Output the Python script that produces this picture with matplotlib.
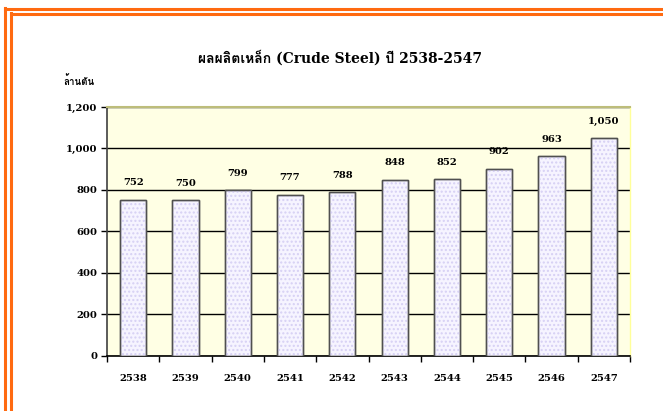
import matplotlib
matplotlib.use("Agg")
import matplotlib.pyplot as plt
from matplotlib import font_manager

years = ["2538", "2539", "2540", "2541", "2542", "2543", "2544", "2545", "2546", "2547"]
values = [752, 750, 799, 777, 788, 848, 852, 902, 963, 1050]
yticks = [0, 200, 400, 600, 800, 1000, 1200]
title = "ผลผลิตเหล็ก (Crude Steel) ปี 2538-2547"
unit = "ล้านตัน"

# find a font that has Thai glyphs
thai_fonts = []
try:
    from fontTools.ttLib import TTFont
    for f in font_manager.fontManager.ttflist:
        try:
            tt = TTFont(f.fname, fontNumber=0, lazy=True)
            cmap = tt.getBestCmap()
            if cmap and 0x0E1C in cmap and 0x0E25 in cmap:
                if f.name not in thai_fonts:
                    thai_fonts.append(f.name)
        except Exception:
            pass
except Exception:
    pass
serif_fams = ["DejaVu Serif"]
title_fams = ["DejaVu Serif"] + thai_fonts

W, H = 663, 411
fig = plt.figure(figsize=(W / 100, H / 100), dpi=100)
fig.patch.set_facecolor("white")

# orange double border (crop of a page frame)
orange = "#FF6A10"
fig.add_artist(plt.Line2D([5 / W, 5 / W], [0, 1 - 8.5 / H], transform=fig.transFigure, color=orange, lw=2.2))
fig.add_artist(plt.Line2D([5 / W, 1], [1 - 9.5 / H, 1 - 9.5 / H], transform=fig.transFigure, color=orange, lw=2.2))
fig.add_artist(plt.Line2D([10.5 / W, 10.5 / W], [0, 1 - 13.5 / H], transform=fig.transFigure, color=orange, lw=2.2))
fig.add_artist(plt.Line2D([10.5 / W, 1], [1 - 14.5 / H, 1 - 14.5 / H], transform=fig.transFigure, color=orange, lw=2.2))

left, right, top, bottom = 107, 630, 107, 355.7
ax = fig.add_axes([left / W, 1 - bottom / H, (right - left) / W, (bottom - top) / H])
ax.set_facecolor("#FFFFE4")

n = len(years)
xs = list(range(n))
ax.set_xlim(-0.5, n - 0.5)
ax.set_ylim(0, 1200)

fs = 7.2
ax.set_yticks(yticks)
ax.set_yticklabels([f"{v:,}" for v in yticks], fontfamily=serif_fams, fontweight="bold", fontsize=fs)
ax.yaxis.grid(True, color="black", lw=1.0)
ax.set_axisbelow(True)

ax.set_xticks([i - 0.5 for i in range(n + 1)])
ax.set_xticklabels([])
ax.set_xticks(xs, minor=True)
ax.set_xticklabels(years, minor=True, fontfamily=serif_fams, fontweight="bold", fontsize=fs)
ax.tick_params(axis="x", which="major", direction="out", length=4, width=1, color="black")
ax.tick_params(axis="x", which="minor", length=0, pad=13)
ax.tick_params(axis="y", direction="out", length=4, width=1, color="black", pad=3)

ax.bar(xs, values, width=0.5, color="#F6F4FF", edgecolor="#505050", lw=1.0, zorder=3)
ax.bar(xs, values, width=0.5, color="none", edgecolor="#D6D0F4", lw=0, hatch="....", zorder=3)
ax.bar(xs, values, width=0.5, color="none", edgecolor="#505050", lw=1.0, zorder=4)

for x, v in zip(xs, values):
    ax.annotate(f"{v:,}", (x, v), xytext=(0, 9), textcoords="offset points",
                ha="center", va="bottom", fontfamily=serif_fams, fontweight="bold", fontsize=fs)

ax.spines["top"].set_color("#BDBD7A")
ax.spines["top"].set_linewidth(1.5)
ax.spines["right"].set_color("#FFFF9A")
ax.spines["right"].set_linewidth(1.0)
ax.spines["left"].set_color("#404040")
ax.spines["left"].set_linewidth(1.2)
ax.spines["bottom"].set_color("black")
ax.spines["bottom"].set_linewidth(1.2)

fig.text(340 / W, 1 - 58 / H, title, ha="center", va="center", fontfamily=title_fams,
         fontweight="bold", fontsize=10)
fig.text(79 / W, 1 - 81 / H, unit, ha="center", va="center", fontfamily=title_fams,
         fontweight="bold", fontsize=7)

fig.savefig("out.png", dpi=100, facecolor="white")
